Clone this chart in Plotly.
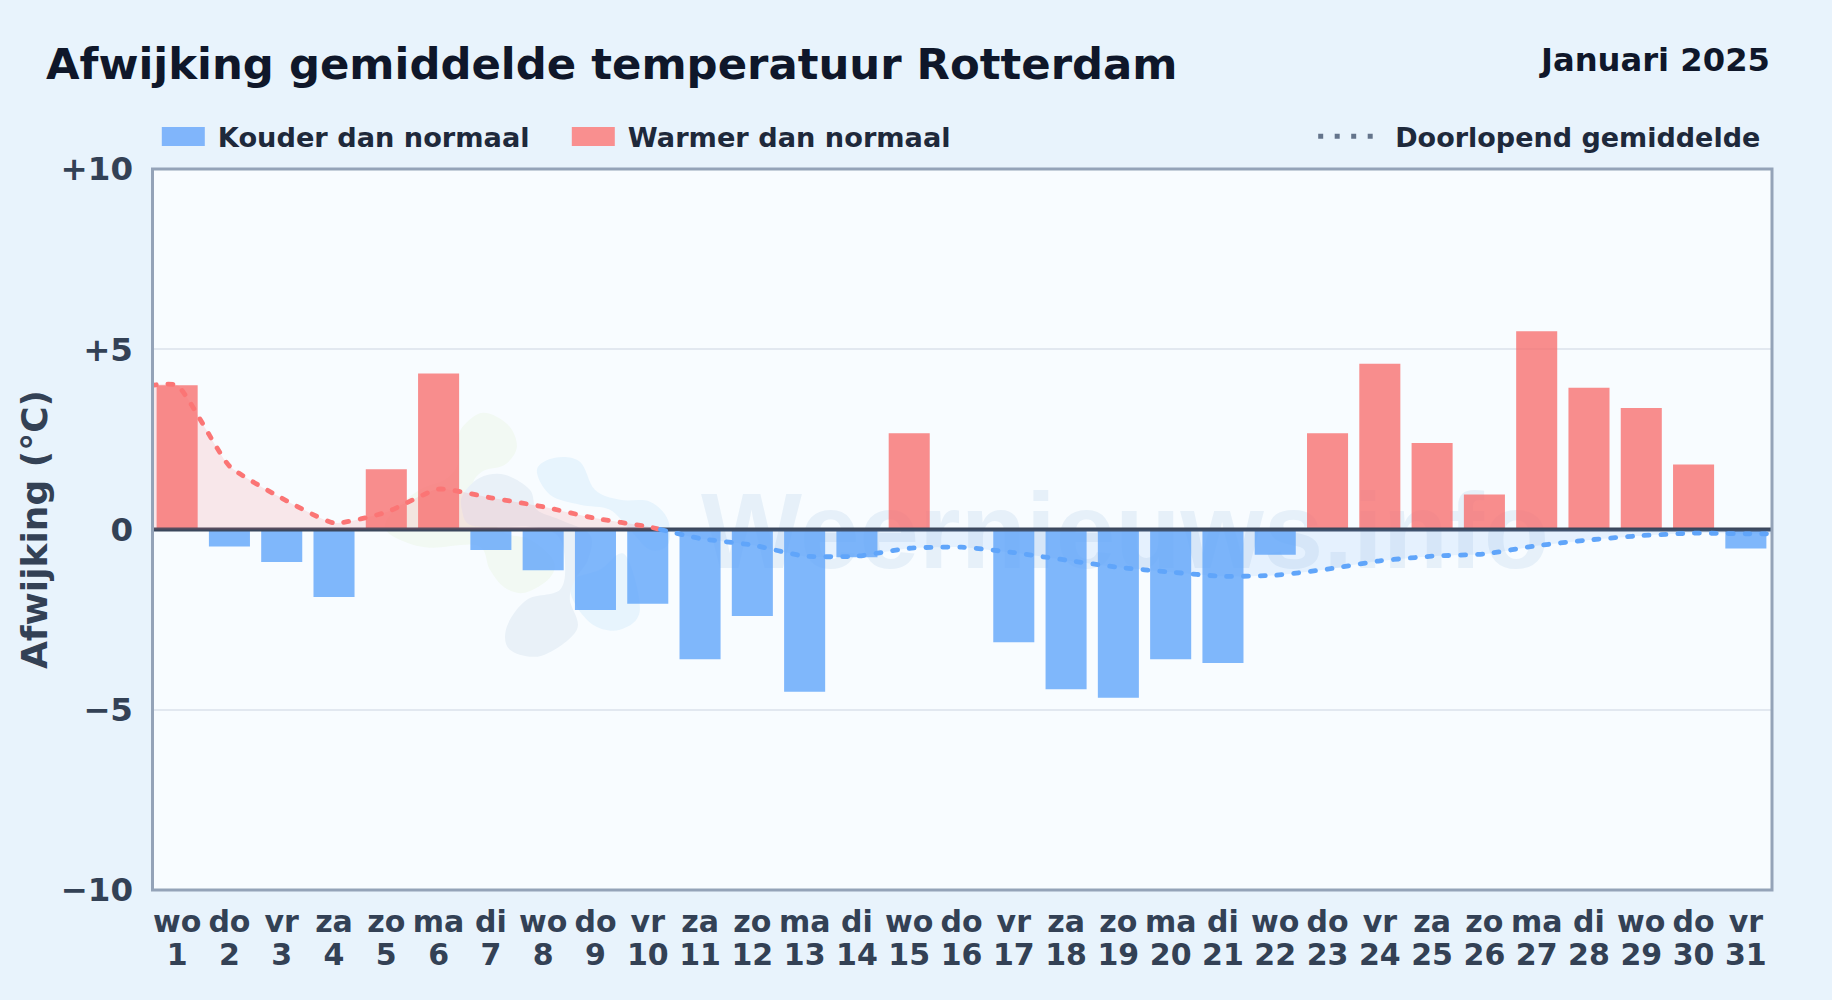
import plotly.graph_objects as go

FONT = "DejaVu Sans"
W, H = 1832, 1000
PL, PR, PT, PB = 151.2, 1771.8, 169.3, 890.3
FRAME_LEFT = 152.7

days = list(range(1, 32))
weekdays = ["wo","do","vr","za","zo","ma","di"] * 4 + ["wo","do","vr"]
deviation = [4.0,-0.47,-0.9,-1.87,1.67,4.33,-0.57,-1.13,-2.23,-2.06,-3.6,-2.4,-4.5,-0.77,2.67,0.0,
             -3.13,-4.43,-4.67,-3.6,-3.7,-0.7,2.67,4.6,2.4,0.97,5.5,3.93,3.37,1.8,-0.53]
running_mean = [4.0,1.76,0.87,0.18,0.48,1.12,0.88,0.63,0.31,0.08,-0.25,-0.43,-0.74,-0.74,-0.52,-0.49,
                -0.64,-0.85,-1.05,-1.18,-1.30,-1.27,-1.1,-0.87,-0.74,-0.68,-0.45,-0.29,-0.17,-0.1,-0.12]
y_ticks = [10, 5, 0, -5, -10]
y_labels = ["+10", "+5", "0", "\u22125", "\u221210"]

cold = [v if v < 0 else None for v in deviation]
warm = [v if v > 0 else None for v in deviation]

# split the running mean where it changes sign, and carry it out to both plot edges
cross = next(i for i, v in enumerate(running_mean) if v < 0)
a, b = running_mean[cross - 1], running_mean[cross]
x_cross = days[cross - 1] + a / (a - b)
warm_x = [0.5] + days[:cross] + [x_cross]
warm_y = [running_mean[0]] + running_mean[:cross] + [0]
cold_x = [x_cross] + days[cross:] + [31.5]
cold_y = [0] + running_mean[cross:] + [running_mean[-1]]

fig = go.Figure()
fig.add_bar(x=days, y=cold, width=0.785, marker=dict(color="rgba(96,165,250,0.8)", line_width=0),
            showlegend=False, name="Kouder dan normaal")
fig.add_bar(x=days, y=warm, width=0.785, marker=dict(color="rgba(248,113,113,0.8)", line_width=0),
            showlegend=False, name="Warmer dan normaal")
fig.add_scatter(x=[0.5, 31.5], y=[0, 0], mode="lines", line=dict(color="#3b475c", width=4),
                showlegend=False, hoverinfo="skip")
LINE = dict(width=4.8, dash="5px,11.8px", shape="spline", smoothing=0.5)
fig.add_scatter(x=warm_x, y=warm_y, mode="lines", line=dict(color="#fb7575", **LINE), fill="tozeroy",
                fillcolor="rgba(248,113,113,0.15)", showlegend=False, name="Doorlopend gemiddelde")
fig.add_scatter(x=cold_x, y=cold_y, mode="lines", line=dict(color="#60a5fa", **LINE), fill="tozeroy",
                fillcolor="rgba(96,165,250,0.12)", showlegend=False, name="Doorlopend gemiddelde")
# legend entries
fig.add_scatter(x=[None], y=[None], mode="lines", name="Kouder dan normaal",
                line=dict(color="#80b5fb", width=5), legend="legend")
fig.add_scatter(x=[None], y=[None], mode="lines", name="Warmer dan normaal",
                line=dict(color="#f98f8f", width=5), legend="legend")
fig.add_scatter(x=[None], y=[None], mode="lines", name="Doorlopend gemiddelde",
                line=dict(color="#64748b", width=5), legend="legend2")
# weekday row of the x labels lives on an overlaid axis
fig.add_scatter(x=[1], y=[None], xaxis="x2", showlegend=False, hoverinfo="skip")


def px(x):
    return (x - PL) / (PR - PL)


def py(y):
    return 1 - (y - PT) / (PB - PT)


def blob(pts):
    """Closed smooth outline for the faint watermark logo, from page pixels."""
    n = len(pts)
    d = "M%.4f,%.4f" % (px(pts[0][0]), py(pts[0][1]))
    for i in range(n):
        p0, p1, p2, p3 = pts[i - 1], pts[i], pts[(i + 1) % n], pts[(i + 2) % n]
        c1 = (p1[0] + (p2[0] - p0[0]) / 6, p1[1] + (p2[1] - p0[1]) / 6)
        c2 = (p2[0] - (p3[0] - p1[0]) / 6, p2[1] - (p3[1] - p1[1]) / 6)
        d += " C%.4f,%.4f %.4f,%.4f %.4f,%.4f" % (px(c1[0]), py(c1[1]), px(c2[0]), py(c2[1]), px(p2[0]), py(p2[1]))
    return d + " Z"


logo_green = [(462,428),(483,413),(508,425),(517,447),(505,465),(482,472),(474,490),(500,530),(530,540),
              (553,560),(550,578),(525,593),(505,588),(490,570),(478,546),(430,548),(400,540),(385,528),
              (395,510),(420,490),(445,480),(458,465),(458,445)]
logo_slate = [(463,495),(480,478),(505,475),(530,490),(537,510),(560,520),(590,535),(588,560),(575,580),
              (570,600),(577,630),(542,656),(510,650),(507,627),(527,600),(560,590),(565,560),(557,535),
              (530,527),(500,527),(470,525),(462,510)]
logo_sky1 = [(537,470),(555,458),(580,462),(595,490),(620,500),(650,502),(668,520),(668,545),(650,550),
             (630,530),(610,510),(580,505),(550,495)]
logo_sky2 = [(625,555),(640,610),(620,630),(593,625),(573,600),(573,580),(600,570)]
shapes = []
for pts, col in [(logo_green, "#f2f9f3"), (logo_sky1, "#e7f4fd"), (logo_sky2, "#e7f4fd"), (logo_slate, "#e9f1f8")]:
    shapes.append(dict(type="path", path=blob(pts), xref="paper", yref="paper", fillcolor=col,
                       line_width=0, layer="below"))
shapes.append(dict(type="rect", xref="paper", yref="paper", x0=px(690), x1=px(1560), y0=py(461), y1=py(581),
                   line_width=0, fillcolor="rgba(0,0,0,0)", layer="below",
                   label=dict(text="Weernieuws.info", textposition="middle center",
                              font=dict(family="Liberation Sans", size=107, color="#e6f0f9", weight=700))))
# plot frame, centred on the plot edges
shapes.append(dict(type="rect", xref="paper", yref="paper", x0=px(FRAME_LEFT), x1=1, y0=0, y1=1,
                   line=dict(color="#94a3b8", width=3), fillcolor="rgba(0,0,0,0)", layer="above"))

fig.update_layout(
    width=W, height=H, autosize=False,
    margin=dict(l=PL, r=W - PR, t=PT, b=H - PB, pad=0),
    paper_bgcolor="#e8f3fc", plot_bgcolor="#f8fcff",
    font=dict(family=FONT, color="#334155"),
    barmode="overlay", shapes=shapes,
    title=dict(text="Afwijking gemiddelde temperatuur Rotterdam", x=46 / W, xanchor="left",
               y=1 - 64 / H, yanchor="middle", xref="container", yref="container",
               font=dict(family=FONT, size=43.37, color="#0f172a", weight=700)),
    annotations=[dict(text="Januari 2025", xref="paper", yref="paper", x=px(1772), y=py(60), xanchor="right",
                      yanchor="middle", showarrow=False, font=dict(family=FONT, size=32.2, color="#0f172a", weight=700))],
    xaxis=dict(range=[0.5, 31.5], tickmode="array", tickvals=days, ticktext=[str(d) for d in days],
               tickfont=dict(family=FONT, size=30, color="#334155", weight=700), ticks="",
               ticklabelstandoff=44, showgrid=False, zeroline=False, showline=False),
    xaxis2=dict(range=[0.5, 31.5], overlaying="x", side="bottom", anchor="y", tickmode="array", tickvals=days,
                ticktext=weekdays, tickfont=dict(family=FONT, size=30, color="#334155", weight=700), ticks="",
                ticklabelstandoff=11, showgrid=False, zeroline=False, showline=False),
    yaxis=dict(range=[-10, 10], tickmode="array", tickvals=y_ticks, ticktext=y_labels,
               tickfont=dict(family=FONT, size=32.5, color="#334155", weight=700), ticks="", ticklabelstandoff=17,
               showgrid=True, gridcolor="#e2e8f0", gridwidth=2, zeroline=False, showline=False,
               title=dict(text="Afwijking (\u00b0C)", standoff=1,
                          font=dict(family=FONT, size=36, color="#334155", weight=700))),
    legend=dict(orientation="h", x=px(157), y=py(137), xanchor="left", yanchor="middle", itemwidth=51,
                bgcolor="rgba(0,0,0,0)", font=dict(family=FONT, size=27.2, color="#1e293b", weight=700),
                itemclick=False, itemdoubleclick=False, entrywidthmode="pixels", entrywidth=344),
    legend2=dict(orientation="h", x=px(1766), y=py(137), xanchor="right", yanchor="middle", itemwidth=72,
                 bgcolor="rgba(0,0,0,0)", font=dict(family=FONT, size=27, color="#1e293b", weight=700),
                 itemclick=False, itemdoubleclick=False),
)

post = """
document.body.style.margin = '0';
var s = document.createElement('style');
s.textContent = '.scatterlayer .js-line{stroke-linecap:round}'
  + '.legend .js-line{stroke-width:19px!important;stroke-dasharray:43px,200px!important}'
  + '.legend2 .js-line{stroke-dasharray:5px,11.5px,5px,11.5px,5px,11.5px,5px,200px!important}';
document.head.appendChild(s);
"""
fig.write_html("out.html", post_script=post, config={"displayModeBar": False})
